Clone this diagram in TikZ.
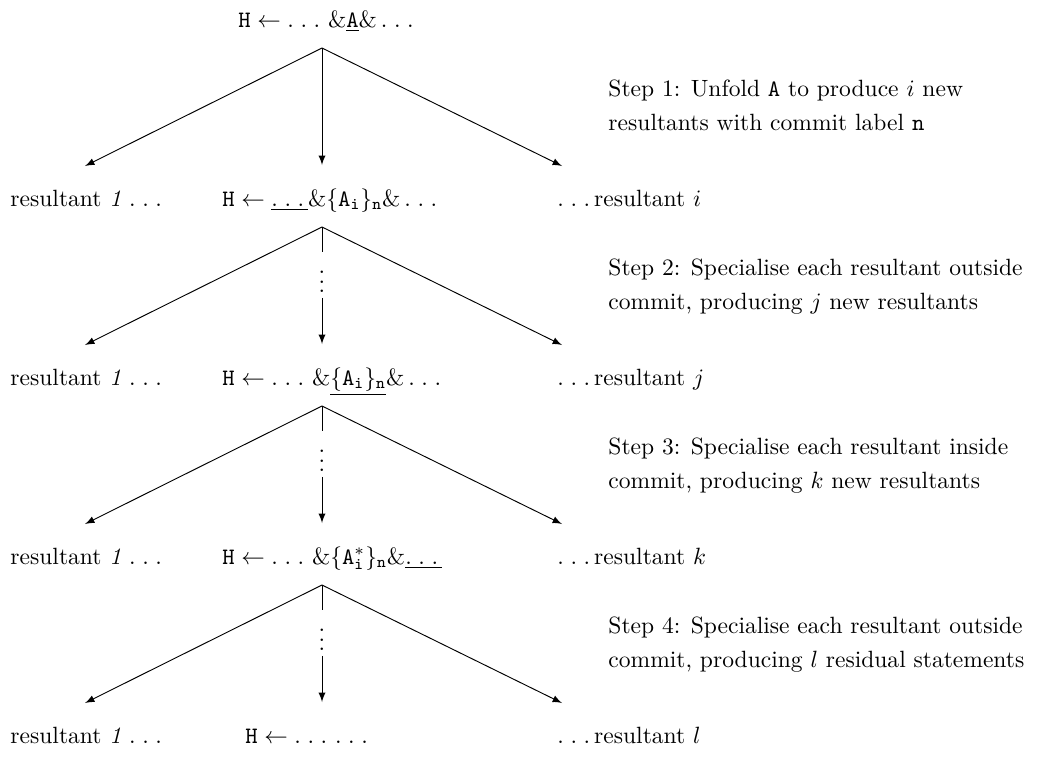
\documentclass[tikz,border=0pt]{standalone}
\usepackage{amsmath}
\usepackage{amssymb}
\usetikzlibrary{calc,arrows}
\newcommand{\tdots}{\mbox{.\kern2.8pt.\kern2.8pt.\kern\fontdimen3\font}}
\newcommand{\mdots}{\mathinner{\tdots}}
\tikzset{row/.style={anchor=base west,inner sep=0pt}}

\begin{document}
\begin{tikzpicture}[x=0.425pt,y=-0.425pt,>=latex]
		\useasboundingbox (0,0) rectangle (1040,758);
		%middle column
		\node[row] (mid0) at (238,27) {$\mathtt{H}\leftarrow\mdots\&\underline{\mathtt{A}}\&\mdots$};
		\node[row] (mid1) at (222,206) {$\mathtt{H}\leftarrow\underline{\mdots}\&\{\mathtt{A}_\mathtt{i}\}_\mathtt{n}\&\mdots$};
		\node[row] (mid2) at (222,385) {$\mathtt{H}\leftarrow\mdots\&\underline{\{\mathtt{A}_\mathtt{i}\}_\mathtt{n}}\&\mdots$};
		\node[row] (mid3) at (222,564) {$\mathtt{H}\leftarrow\mdots\&\{\mathtt{A}^*_\mathtt{i}\}_\mathtt{n}\&\underline{\mdots}$};
		\node[row] (mid4) at (245,743) {$\mathtt{H}\leftarrow\mdots\mdots$};
		
		%left and right
		\foreach \i/\r in {1/i,2/j,3/k,4/l}{
			\node[row] (left\i) at (10,{27+179*\i}) {resultant \textit{1} \tdots};
			\node[row] (right\i) at (557,{27+179*\i}) {\tdots resultant $\r$};
		}
		
		%steps
		\node[anchor=north west,inner sep=0pt,align=left] (step1) at (608,79) {Step 1: Unfold \texttt{A} to produce $i$ new\\[2.6pt]resultants with commit label \texttt{n}};
		\node[anchor=north west,inner sep=0pt,align=left] (step2) at (608,258) {Step 2: Specialise each resultant outside\\[2.6pt]commit, producing $j$ new resultants};
		\node[anchor=north west,inner sep=0pt,align=left] (step3) at (608,437) {Step 3: Specialise each resultant inside\\[2.6pt]commit, producing $k$ new resultants};
		\node[anchor=north west,inner sep=0pt,align=left] (step4) at (608,616) {Step 4: Specialise each resultant outside\\[2.6pt]commit, producing $l$ residual statements};
		
		%arrows:
		\foreach \i in {0,1,2,3}{
			\coordinate (apex\i) at (322,{48+179*\i});
			\coordinate (tl\i) at (85,{166+179*\i});
			\coordinate (tm\i) at (322,{165+179*\i});
			\coordinate (tr\i) at (562,{166+179*\i});
			\draw[->] (apex\i) -- (tl\i);
			\draw[->] (apex\i) -- (tr\i);
		}
		\draw[->] (apex0) -- (tm0);
		\foreach \i in {1,2,3}{
			\node[inner sep=2pt] (dots\i) at (322,{96+179*\i}) {$\vdots$};
			\draw (apex\i) -- (dots\i);
			\draw[->] (dots\i) -- (tm\i);
		}
\end{tikzpicture}
\end{document}
